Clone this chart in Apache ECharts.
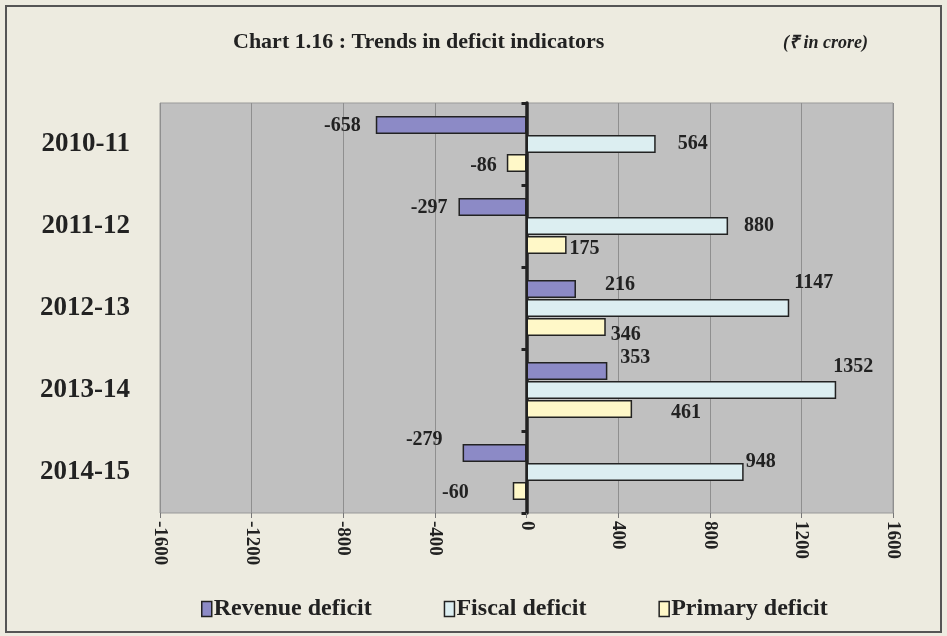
<!DOCTYPE html>
<html>
<head>
<meta charset="utf-8">
<script src="https://cdn.jsdelivr.net/npm/echarts@6/dist/echarts.min.js"></script>
<style>
  html, body { margin: 0; padding: 0; background: #EDEBE0; }
  #main { width: 947px; height: 636px; }
</style>
</head>
<body>
<div id="main"></div>
<script>
  // data
  var years = ['2010-11', '2011-12', '2012-13', '2013-14', '2014-15'];
  var revenueDeficit = [-658, -297, 216, 353, -279];
  var fiscalDeficit = [564, 880, 1147, 1352, 948];
  var primaryDeficit = [-86, 175, 346, 461, -60];

  // label nudges so they sit where the original puts them
  var revenueOffsets = [[-10, 1], [-6, 1], [24, -4], [8, -13], [-15, -13]];
  var fiscalOffsets = [[17, 0], [11, 0], [0, -25], [-8, -23], [-3, -10]];
  var primaryOffsets = [[-5, 3], [-2, 4], [0, 8], [34, 4], [-39, 2]];

  var serif = '"Liberation Serif", "Times New Roman", serif';

  function withLabels(values, offsets) {
    return values.map(function (v, i) {
      return {
        value: v,
        label: { position: v < 0 ? 'left' : 'right', offset: offsets[i] }
      };
    });
  }

  function barSeries(name, color, values, offsets) {
    return {
      name: name,
      type: 'bar',
      yAxisIndex: 0,
      barWidth: 18,
      barGap: '6%',
      itemStyle: { color: color, borderColor: '#222', borderWidth: 1.5 },
      label: {
        show: true,
        color: '#222',
        fontFamily: serif,
        fontWeight: 'bold',
        fontSize: 20
      },
      data: withLabels(values, offsets)
    };
  }

  var chart = echarts.init(document.getElementById('main'));
  var option = {
    backgroundColor: '#EDEBE0',
    animation: false,
    title: [{
      text: 'Chart 1.16 : Trends in deficit indicators',
      left: 228,
      top: 26,
      textStyle: { fontFamily: serif, fontWeight: 'bold', fontSize: 22, color: '#222' }
    }, {
      text: '(₹ in crore)',
      left: 778,
      top: 29,
      textStyle: { fontFamily: serif, fontWeight: 'bold', fontStyle: 'italic', fontSize: 18, color: '#222' }
    }],
    graphic: [{
      type: 'rect',
      shape: { x: 6, y: 6, width: 935, height: 626 },
      style: { fill: null, stroke: '#555', lineWidth: 2 },
      silent: true
    }],
    legend: {
      bottom: 10,
      left: 196,
      itemWidth: 10,
      itemHeight: 15,
      itemGap: 72,
      icon: 'rect',
      itemStyle: { borderColor: '#222', borderWidth: 1.5 },
      textStyle: { fontFamily: serif, fontWeight: 'bold', fontSize: 24, color: '#222', padding: [0, 0, 0, -3] },
      data: ['Revenue deficit', 'Fiscal deficit', 'Primary deficit']
    },
    grid: {
      left: 160,
      right: 54,
      top: 103,
      bottom: 123,
      show: true,
      backgroundColor: '#C0C0C0',
      borderColor: '#999',
      borderWidth: 1
    },
    xAxis: {
      type: 'value',
      min: -1600,
      max: 1600,
      interval: 400,
      axisLine: { show: false },
      axisTick: { show: true, length: 5, lineStyle: { color: '#777' } },
      splitLine: { show: true, lineStyle: { color: '#8f8f8f', width: 1 } },
      axisLabel: {
        rotate: -90,
        margin: 8,
        formatter: function (v) { return String(v); },
        fontFamily: serif,
        fontWeight: 'bold',
        fontSize: 19,
        color: '#222'
      }
    },
    yAxis: [{
      type: 'category',
      inverse: true,
      data: years,
      axisLine: { show: false, onZero: false },
      axisTick: { show: false },
      axisLabel: {
        margin: 30,
        fontFamily: serif,
        fontWeight: 'bold',
        fontSize: 27,
        color: '#222'
      }
    }, {
      type: 'category',
      inverse: true,
      position: 'left',
      data: years,
      axisLine: { show: true, onZero: true, lineStyle: { color: '#222', width: 3.5 } },
      axisTick: { show: true, length: 5, lineStyle: { color: '#222', width: 3 } },
      axisLabel: { show: false }
    }],
    series: [
      barSeries('Revenue deficit', '#8C8AC6', revenueDeficit, revenueOffsets),
      barSeries('Fiscal deficit', '#DCEEF1', fiscalDeficit, fiscalOffsets),
      barSeries('Primary deficit', '#FFF8C8', primaryDeficit, primaryOffsets)
    ]
  };
  chart.setOption(option);
</script>
</body>
</html>
